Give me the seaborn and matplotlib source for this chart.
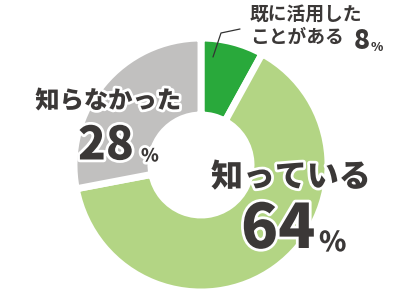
import matplotlib
matplotlib.use("Agg")
import matplotlib.pyplot as plt
import matplotlib.patheffects as pe
import seaborn as sns

categories = ["既に活用したことがある", "知っている", "知らなかった"]
values = [8, 64, 28]
colors = ["#29a93b", "#b3d584", "#c1c0bf"]

sns.set_theme(style="white")
plt.rcParams["font.family"] = ["Noto Sans CJK JP", "DejaVu Sans"]

W, H = 416, 303
cx, cy, R = 201, 165, 127  # pixel geometry of the donut

fig = plt.figure(figsize=(W / 100, H / 100), dpi=100)
ax = fig.add_axes([0, 0, 1, 1])
ax.pie(values, colors=colors, startangle=90, counterclock=False, radius=1.0,
       wedgeprops=dict(width=1 - 50 / 127, edgecolor="white", linewidth=5))
ax.set_xlim(-cx / R, (W - cx) / R)
ax.set_ylim(-(H - cy) / R, cy / R)
ax.set_aspect("auto")
ax.axis("off")

txt = "#3b3837"
stroke = [pe.withStroke(linewidth=4, foreground="white")]

def P(x, y):
    return x / W, 1 - y / H

def label(x, y, s, size, ha="center", weight="black", fx=stroke):
    ax.text(*P(x, y), s, transform=ax.transAxes, ha=ha, va="center",
            fontsize=size, color=txt, fontweight=weight, path_effects=fx)

# leader line for small slice
ax.plot([P(213, 57)[0], P(221, 33)[0], P(240, 29)[0]],
        [P(213, 57)[1], P(221, 33)[1], P(240, 29)[1]],
        transform=ax.transAxes, color="#333333", lw=0.9)

# top label
label(250, 14, "既に活用した", 13.5, ha="left", weight="bold", fx=None)
label(250, 37, "ことがある", 13.5, ha="left", weight="bold", fx=None)
label(354, 41, str(values[0]), 19, ha="left", fx=None)
label(371, 47, "%", 9, ha="left", fx=None)

# gray label
label(108, 101, categories[2], 17.5)
label(78, 146, str(values[2]), 33, ha="left")
label(141, 156, "%", 13, ha="left")

# light green label
label(291, 177, categories[1], 23)
label(241, 230, str(values[1]), 44, ha="left")
label(319, 243, "%", 20, ha="left")

fig.savefig("out.png", dpi=100)
